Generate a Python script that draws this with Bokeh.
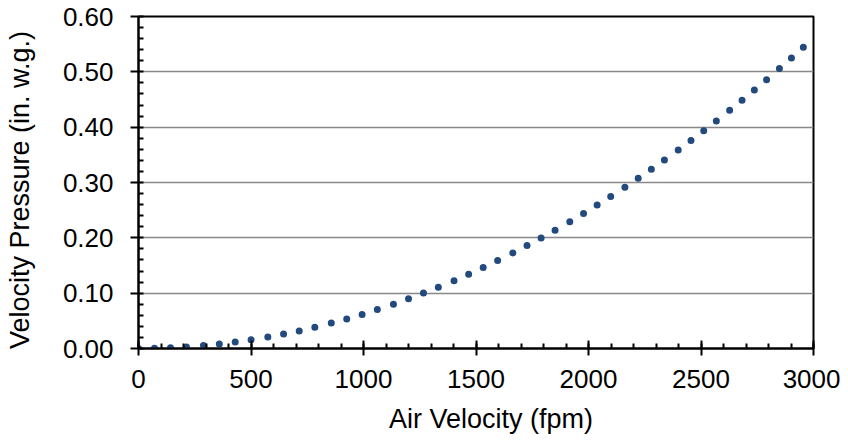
from bokeh.plotting import figure
from bokeh.models import Range1d, FixedTicker, NumeralTickFormatter, ColumnDataSource
from bokeh.embed import file_html
from bokeh.resources import INLINE

# Air velocity (fpm) and velocity pressure (in. w.g.)
air_velocity = [0, 100, 200, 300, 400, 500, 600, 700, 800, 900, 1000,
                1100, 1200, 1300, 1400, 1500, 1600, 1700, 1800, 1900, 2000,
                2100, 2200, 2300, 2400, 2500, 2600, 2700, 2800, 2900, 2980]
velocity_pressure = [0.0, 0.0006, 0.0025, 0.0056, 0.0100, 0.0156, 0.0224, 0.0305,
                     0.0399, 0.0505, 0.0623, 0.0754, 0.0898, 0.1054, 0.1222,
                     0.1403, 0.1596, 0.1802, 0.2020, 0.2251, 0.2494, 0.2749,
                     0.3017, 0.3298, 0.3591, 0.3897, 0.4215, 0.4545, 0.4888,
                     0.5243, 0.5537]

x_ticks = [0, 500, 1000, 1500, 2000, 2500, 3000]
x_minor = [v for v in range(0, 3001, 100)]
y_ticks = [0.0, 0.1, 0.2, 0.3, 0.4, 0.5, 0.6]
y_minor = [i / 50 for i in range(0, 31)]

x_label = "Air Velocity (fpm)"
y_label = "Velocity Pressure (in. w.g.)"

FONT = "Liberation Sans"
FS = "26px"
FS_TITLE = "27px"
NBSP = "\u00a0"

src = ColumnDataSource(data=dict(x=air_velocity, y=velocity_pressure))

p = figure(frame_width=675, frame_height=332,
           min_border_left=138, min_border_top=16, min_border_right=27, min_border_bottom=84,
           x_range=Range1d(0, 3000), y_range=Range1d(0, 0.6),
           output_backend="svg", toolbar_location=None)

p.line("x", "y", source=src, line_color="#234a7e", line_width=7,
       line_cap="round", line_dash="0 16 0 16 0 16 0 17")

p.xaxis.ticker = FixedTicker(ticks=x_ticks, minor_ticks=x_minor)
p.yaxis.ticker = FixedTicker(ticks=y_ticks, minor_ticks=y_minor)
p.xaxis.formatter = NumeralTickFormatter(format="0")
p.yaxis.formatter = NumeralTickFormatter(format="0.00")

# titles sit slightly off-centre in the original: pad with non-breaking spaces
p.xaxis.axis_label = NBSP * 4 + x_label
p.yaxis.axis_label = y_label + NBSP * 2

for ax in (p.xaxis, p.yaxis):
    ax.axis_line_color = "black"
    ax.axis_line_width = 2
    ax.major_tick_line_color = "black"
    ax.major_tick_line_width = 2
    ax.minor_tick_line_color = "black"
    ax.minor_tick_line_width = 2
    ax.major_label_text_font = FONT
    ax.major_label_text_font_size = FS
    ax.major_label_text_color = "black"
    ax.axis_label_text_font = FONT
    ax.axis_label_text_font_size = FS_TITLE
    ax.axis_label_text_font_style = "normal"
    ax.axis_label_text_color = "black"

p.xaxis.major_tick_in = 8
p.xaxis.major_tick_out = 7
p.xaxis.minor_tick_in = 5
p.xaxis.minor_tick_out = 0
p.xaxis.major_label_standoff = 14
p.xaxis.axis_label_standoff = 13

p.yaxis.major_tick_in = 0
p.yaxis.major_tick_out = 8
p.yaxis.minor_tick_in = 5
p.yaxis.minor_tick_out = 0
p.yaxis.major_label_standoff = 17
p.yaxis.axis_label_standoff = 25

p.xgrid.grid_line_color = None
p.ygrid.grid_line_color = "#898989"
p.ygrid.grid_line_width = 1.5

p.outline_line_color = "black"
p.outline_line_width = 2
p.background_fill_color = "white"
p.border_fill_color = "white"

open("out.html", "w").write(file_html(p, INLINE))
